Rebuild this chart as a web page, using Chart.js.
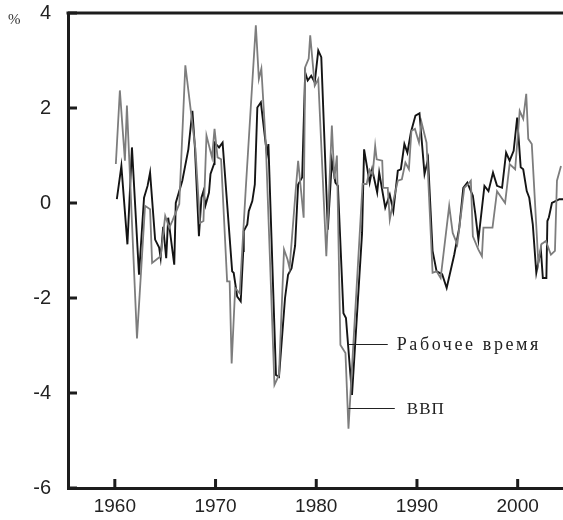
<!DOCTYPE html>
<html>
<head>
<meta charset="utf-8">
<script src="https://cdn.jsdelivr.net/npm/chart.js@4"></script>
<style>
  body { margin: 0; background: #fff; }
  #wrap { width: 563px; height: 520px; position: relative; }
</style>
</head>
<body>
<div id="wrap"><canvas id="chart"></canvas></div>
<script>
// ВВП (grey line)
const gdpYears = [1960.1, 1960.5, 1961.0, 1961.2, 1962.2, 1963.0, 1963.5, 1963.7, 1964.55, 1965.0,
  1965.4, 1965.7, 1966.4, 1967.0, 1968.0, 1968.45, 1968.8, 1969.1, 1969.65, 1969.9,
  1970.2, 1970.55, 1971.15, 1971.4, 1971.6, 1971.95, 1972.4, 1973.0, 1974.0, 1974.3,
  1974.55, 1975.0, 1975.85, 1976.3, 1976.8, 1977.15, 1977.35, 1977.9, 1978.2, 1978.75,
  1978.9, 1979.25, 1979.4, 1979.85, 1980.2, 1981.0, 1981.55, 1981.8, 1982.05, 1982.4,
  1982.9, 1983.2, 1984.6, 1985.0, 1985.3, 1985.6, 1985.85, 1986.0, 1986.55, 1986.65,
  1987.1, 1987.3, 1987.65, 1988.1, 1988.5, 1988.85, 1989.2, 1989.45, 1989.8, 1990.2,
  1990.45, 1990.95, 1991.55, 1991.95, 1992.35, 1993.2, 1993.55, 1994.0, 1994.7, 1995.05,
  1995.35, 1995.55, 1996.1, 1996.45, 1996.6, 1997.5, 1997.95, 1998.75, 1999.2, 1999.75,
  2000.2, 2000.55, 2000.85, 2001.05, 2001.4, 2002.05, 2002.35, 2002.8, 2003.3, 2003.7,
  2003.9, 2004.3];
const gdpValues = [0.82, 2.37, 0.89, 2.05, -2.85, -0.06, -0.13, -1.26, -1.12, -0.27,
  -0.52, -0.38, -0.02, 2.9, 1.14, -0.42, -0.38, 1.42, 0.96, 1.56,
  0.96, 0.92, -1.65, -1.65, -3.38, -1.79, -1.9, 0.3, 3.74, 2.61,
  2.83, 1.2, -3.83, -3.62, -0.98, -1.19, -1.37, 0.11, 0.89, -0.31,
  2.86, 3.04, 3.53, 2.47, 2.61, -1.12, 1.63, 0.5, 1.0, -2.99,
  -3.16, -4.75, 0.4, 0.4, 0.7, 0.6, 1.2, 0.92, 0.89, 0.32,
  0.32, -0.35, 0.04, 0.47, 0.5, 0.85, 0.71, 1.52, 1.56, 1.27,
  1.7, 1.27, -1.47, -1.44, -1.58, -0.06, -0.63, -0.87, 0.32, 0.39,
  0.47, -0.7, -0.98, -1.12, -0.52, -0.52, 0.25, 0.0, 0.82, 0.71,
  1.94, 1.77, 2.3, 1.35, 1.24, -1.26, -0.87, -0.8, -1.09, -1.01,
  0.47, 0.78];

// Рабочее время (black line)
const hoursYears = [1960.2, 1960.65, 1961.25, 1961.7, 1962.4, 1962.9, 1963.25, 1963.5, 1964.0, 1964.4,
  1964.55, 1964.8, 1965.1, 1965.3, 1965.9, 1966.05, 1966.7, 1967.3, 1967.7, 1967.95,
  1968.35, 1968.6, 1968.8, 1969.0, 1969.35, 1969.5, 1969.85, 1969.9, 1970.35, 1970.7,
  1971.65, 1971.8, 1972.15, 1972.5, 1972.75, 1972.8, 1973.15, 1973.3, 1973.65, 1973.9,
  1974.15, 1974.5, 1975.1, 1975.25, 1976.0, 1976.3, 1976.9, 1977.2, 1977.55, 1977.9,
  1978.2, 1978.6, 1978.9, 1979.15, 1979.5, 1979.85, 1980.2, 1980.5, 1981.15, 1981.55,
  1981.9, 1982.15, 1982.7, 1982.95, 1983.55, 1984.55, 1984.75, 1985.3, 1985.55, 1986.05,
  1986.25, 1986.85, 1987.3, 1987.65, 1988.1, 1988.4, 1988.75, 1989.05, 1989.4, 1989.85,
  1990.25, 1990.75, 1991.1, 1991.55, 1991.95, 1992.5, 1992.95, 1993.7, 1994.2, 1994.6,
  1995.0, 1995.55, 1995.8, 1996.1, 1996.7, 1997.1, 1997.55, 1997.95, 1998.45, 1998.85,
  1999.2, 1999.6, 1999.95, 2000.3, 2000.55, 2000.9, 2001.15, 2001.5, 2001.85, 2002.3,
  2002.5, 2002.85, 2002.95, 2003.1, 2003.4, 2004.15, 2004.5];
const hoursValues = [0.08, 0.78, -0.87, 1.17, -1.51, 0.11, 0.36, 0.64, -0.77, -0.94,
  -1.16, -0.5, -1.16, -0.31, -1.3, 0.0, 0.47, 1.13, 1.94, 1.17,
  -0.7, 0.11, 0.25, -0.05, 0.22, 0.61, 0.82, 1.27, 1.17, 1.27,
  -1.44, -1.47, -1.97, -2.07, -1.01, -0.59, -0.45, -0.17, 0.04, 0.39,
  2.01, 2.12, 1.03, 1.24, -3.62, -3.66, -2.0, -1.51, -1.37, -0.9,
  0.39, 0.54, 2.75, 2.58, 2.68, 2.54, 3.21, 3.07, -0.56, 0.89,
  0.43, 0.36, -2.32, -2.42, -4.04, -0.63, 1.13, 0.43, 0.71, 0.22,
  0.64, -0.1, 0.18, -0.17, 0.68, 0.71, 1.24, 1.06, 1.49, 1.84,
  1.89, 0.61, 0.92, -1.01, -1.44, -1.5, -1.79, -1.09, -0.52, 0.32,
  0.43, 0.15, -0.24, -0.77, 0.36, 0.25, 0.64, 0.36, 0.32, 1.06,
  0.89, 1.1, 1.8, 0.75, 0.71, 0.25, 0.11, -0.45, -1.47, -0.98,
  -1.58, -1.58, -0.38, -0.3, 0.0, 0.08, 0.08];

const xTicks = [1960, 1970, 1980, 1990, 2000];
const yTicks = [-6, -4, -2, 0, 2, 4];

// label callouts: [text, x from, x to, y]
const callouts = [
  ["Рабочее время", 1983.15, 1987.1, -2.97],
  ["ВВП", 1983.2, 1987.8, -4.31]
];

const ink = "#1c1c1c";

const pairs = (xs, ys) => xs.map((x, i) => ({ x: x, y: ys[i] }));

const decor = {
  id: "decor",
  afterDraw(chart) {
    const { ctx, chartArea: a, scales: { x, y } } = chart;
    ctx.save();
    ctx.strokeStyle = ink;
    ctx.lineWidth = 3;
    // top frame line
    ctx.beginPath();
    ctx.moveTo(a.left - 1.5, a.top);
    ctx.lineTo(a.right, a.top);
    ctx.stroke();
    // inward ticks
    ctx.beginPath();
    yTicks.forEach(v => {
      const py = y.getPixelForValue(v);
      ctx.moveTo(a.left, py);
      ctx.lineTo(a.left + 9, py);
    });
    xTicks.forEach(v => {
      const px = x.getPixelForValue(v);
      ctx.moveTo(px, a.bottom);
      ctx.lineTo(px, a.bottom - 9);
    });
    ctx.stroke();

    // % sign
    ctx.fillStyle = "#333";
    ctx.font = "15px 'Liberation Serif'";
    ctx.textAlign = "left";
    ctx.textBaseline = "middle";
    ctx.fillText("%", 8, 20);

    // callouts
    ctx.lineWidth = 1;
    ctx.strokeStyle = "#222";
    ctx.fillStyle = "#222";
    callouts.forEach(([txt, x0, x1, v]) => {
      const py = Math.round(y.getPixelForValue(v)) + 0.5;
      const p0 = x.getPixelForValue(x0), p1 = x.getPixelForValue(x1);
      ctx.beginPath();
      ctx.moveTo(p0, py);
      ctx.lineTo(p1, py);
      ctx.stroke();
      const long = txt.length > 5;
      ctx.font = (long ? "18px" : "17px") + " 'Liberation Serif'";
      ctx.letterSpacing = long ? "2.6px" : "1px";
      ctx.fillText(txt, p1 + (long ? 9 : 12), py + 1);
    });
    ctx.restore();
  }
};

new Chart(document.getElementById("chart"), {
  type: "line",
  data: {
    datasets: [
      {
        label: "ВВП",
        data: pairs(gdpYears, gdpValues),
        borderColor: "#7d7d7d",
        borderWidth: 1.8,
        pointRadius: 0,
        tension: 0
      },
      {
        label: "Рабочее время",
        data: pairs(hoursYears, hoursValues),
        borderColor: "#141414",
        borderWidth: 1.9,
        pointRadius: 0,
        tension: 0
      }
    ]
  },
  options: {
    responsive: true,
    maintainAspectRatio: false,
    animation: false,
    layout: { padding: { top: 13, right: 0, left: 0, bottom: 0 } },
    plugins: { legend: { display: false }, tooltip: { enabled: false } },
    scales: {
      x: {
        type: "linear",
        min: 1955.35,
        max: 2004.5,
        afterBuildTicks: s => { s.ticks = xTicks.map(v => ({ value: v })); },
        afterFit: s => { s.height = 32; s.paddingLeft = 0; s.paddingRight = 0; },
        grid: { display: false, drawTicks: false },
        border: { display: true, color: ink, width: 3 },
        ticks: {
          color: "#222",
          padding: 7,
          maxRotation: 0,
          font: { family: "'Liberation Sans', Arial", size: 19 },
          callback: v => String(v)
        }
      },
      y: {
        min: -6,
        max: 4,
        afterBuildTicks: s => { s.ticks = yTicks.map(v => ({ value: v })); },
        afterFit: s => { s.width = 68; s.paddingTop = 0; s.paddingBottom = 0; },
        grid: { display: false, drawTicks: false },
        border: { display: true, color: ink, width: 3 },
        ticks: {
          color: "#222",
          padding: 17,
          font: { family: "'Liberation Sans', Arial", size: 20 }
        }
      }
    }
  },
  plugins: [decor]
});
</script>
</body>
</html>
